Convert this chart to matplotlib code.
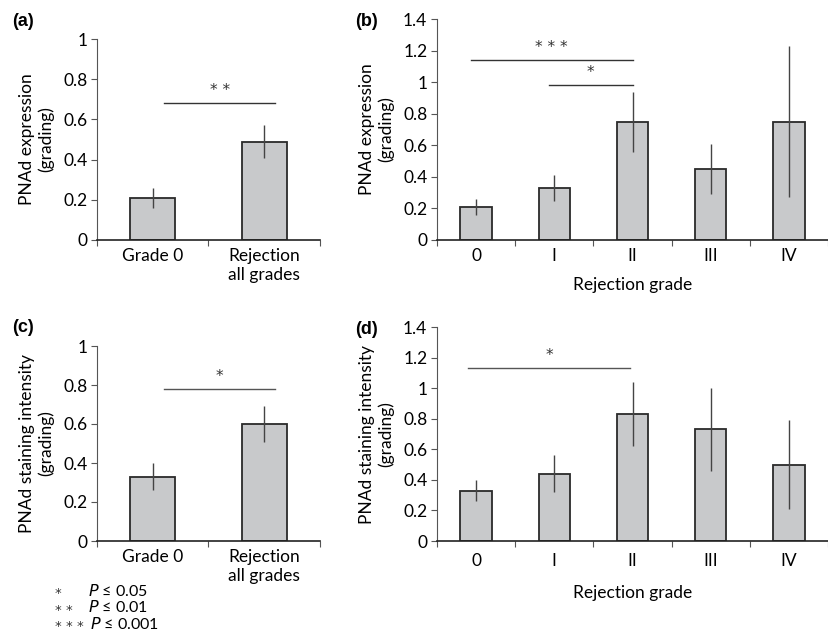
import numpy as np
import matplotlib.pyplot as plt

plt.rcParams['font.family'] = ['Lato', 'DejaVu Sans']

# data
two_groups = ['Grade 0', 'Rejection\nall grades']
grades = ['0', 'I', 'II', 'III', 'IV']

expr_two = [0.21, 0.49]
expr_two_err = [0.05, 0.08]
expr_grade = [0.21, 0.33, 0.75, 0.45, 0.75]
expr_grade_err = [0.05, 0.08, 0.19, 0.16, 0.48]

stain_two = [0.33, 0.60]
stain_two_err = [0.07, 0.09]
stain_grade = [0.33, 0.44, 0.83, 0.73, 0.50]
stain_grade_err = [0.07, 0.12, 0.21, 0.27, 0.29]

bar_col = '#c8c9cb'
edge_col = '#2a2a2a'
err_col = '#444444'
fs = 12.5


def bars(ax, cats, vals, errs, ymax, ystep, xmax=None, xpad=6):
    x = np.arange(len(cats))
    ax.bar(x, vals, width=0.4, color=bar_col, edgecolor=edge_col, linewidth=1.3, zorder=2)
    ax.errorbar(x, vals, yerr=errs, fmt='none', ecolor=err_col, elinewidth=1.0, capsize=0, zorder=3)
    ax.set_ylim(0, ymax)
    ticks = np.arange(0, ymax + 0.001, ystep)
    ax.set_yticks(ticks)
    ax.set_yticklabels(['%g' % round(v, 1) for v in ticks])
    ax.set_xlim(-0.5, xmax if xmax is not None else len(cats) - 0.5)
    ax.set_xticks(np.arange(len(cats) + 1) - 0.5)
    ax.set_xticklabels([])
    ax.set_xticks(x, minor=True)
    ax.set_xticklabels(cats, minor=True)
    ax.tick_params(axis='x', which='minor', length=0, pad=xpad, labelsize=fs)
    ax.tick_params(axis='x', which='major', length=4, color='#555555')
    ax.tick_params(axis='y', length=4, color='#555555', labelsize=fs, pad=3)
    for s in ['top', 'right']:
        ax.spines[s].set_visible(False)
    ax.spines['left'].set_color('#555555')
    ax.spines['bottom'].set_color('#222222')
    ax.spines['bottom'].set_linewidth(1.2)


def sig(ax, x0, x1, y, txt, col='#333333'):
    ax.plot([x0, x1], [y, y], color=col, lw=1.0, clip_on=False)
    ax.annotate(txt, ((x0 + x1) / 2, y), xytext=(0, 9), textcoords='offset points',
                ha='center', va='center', fontsize=11, color='#333333',
                family=['DejaVu Sans'])


fig = plt.figure(figsize=(8.29, 6.34), dpi=100)

ax_a = fig.add_axes([97 / 829, 1 - 240 / 634, 223 / 829, 201 / 634])
bars(ax_a, two_groups, expr_two, expr_two_err, 1.0, 0.2)
sig(ax_a, 0.1, 1.1, 0.68, '* *')
ax_a.set_ylabel('PNAd expression\n(grading)', fontsize=fs, labelpad=6)

ax_b = fig.add_axes([437 / 829, 1 - 240 / 634, 391 / 829, 221 / 634])
bars(ax_b, grades, expr_grade, expr_grade_err, 1.4, 0.2, xmax=4.39)
sig(ax_b, -0.07, 2.0, 1.14, '* * *')
sig(ax_b, 0.93, 2.0, 0.98, '*')
ax_b.set_ylabel('PNAd expression\n(grading)', fontsize=fs, labelpad=6)
ax_b.set_xlabel('Rejection grade', fontsize=fs, labelpad=9)

ax_c = fig.add_axes([97 / 829, 1 - 541 / 634, 223 / 829, 195 / 634])
bars(ax_c, two_groups, stain_two, stain_two_err, 1.0, 0.2)
sig(ax_c, 0.1, 1.1, 0.78, '*', col='#555555')
ax_c.set_ylabel('PNAd staining intensity\n(grading)', fontsize=fs, labelpad=6)

ax_d = fig.add_axes([437 / 829, 1 - 541 / 634, 391 / 829, 214 / 634])
bars(ax_d, grades, stain_grade, stain_grade_err, 1.4, 0.2, xmax=4.39, xpad=9)
sig(ax_d, -0.1, 1.97, 1.13, '*', col='#555555')
ax_d.set_ylabel('PNAd staining intensity\n(grading)', fontsize=fs, labelpad=6)
ax_d.set_xlabel('Rejection grade', fontsize=fs, labelpad=11)

for lab, px, py in [('(a)', 12, 21), ('(b)', 355, 21), ('(c)', 12, 327), ('(d)', 355, 330)]:
    fig.text(px / 829, 1 - py / 634, lab, fontsize=13, fontweight='bold',
             family=['Liberation Sans', 'DejaVu Sans'], va='center')

leg_stars = ['*', '* *', '* * *']
leg_p = ['0.05', '0.01', '0.001']
for i, (st, p) in enumerate(zip(leg_stars, leg_p)):
    y = 1 - (591 + i * 16.5) / 634
    fig.text(55 / 829, y - 0.004, st, fontsize=9.5, va='center', family=['DejaVu Sans'], color='#333333')
    fig.text((88 + (2 if i == 2 else 0)) / 829, y, r'$P$ ≤ ' + p, fontsize=11.5, va='center')

fig.savefig('out.png', dpi=100)
